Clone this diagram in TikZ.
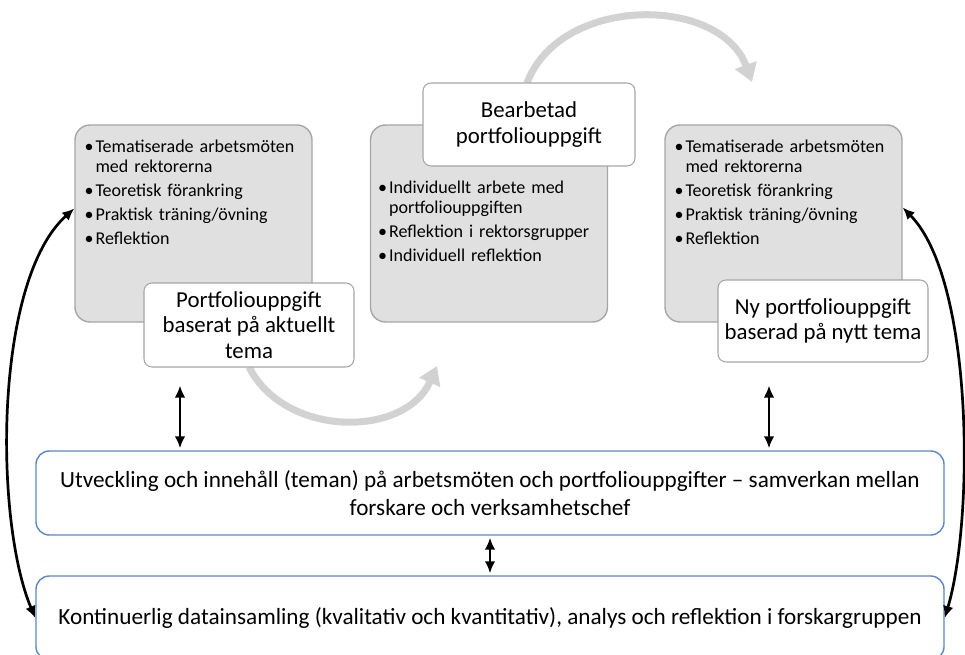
\documentclass[tikz,border=0pt]{standalone}
\usepackage{fontspec}
\setmainfont{Carlito}
\usetikzlibrary{arrows.meta,positioning}
\definecolor{boxgray}{HTML}{E0E0E0}
\definecolor{edgegray}{HTML}{A6A6A6}
\definecolor{arcgray}{HTML}{D2D2D2}
\definecolor{edgeblue}{HTML}{5B87C5}
\newcommand{\punkt}[1]{\par\hangindent=9.4pt\hangafter=1\noindent\makebox[9.4pt][l]{\textbullet}#1}
\tikzset{
  graybox/.style={draw=edgegray, fill=boxgray, line width=1.2pt, rounded corners=4.5mm, minimum width=71.1mm, minimum height=59.1mm},
  whitebox/.style={draw=edgegray, fill=white, line width=0.9pt, rounded corners=2.4mm, align=center, inner sep=0pt, font=\fontsize{19.5}{22}\selectfont},
  bluebox/.style={draw=edgeblue, fill=white, line width=1.2pt, rounded corners=4mm, align=center, minimum width=272.4mm, minimum height=25.2mm, font=\fontsize{19.8}{24}\selectfont},
  bullets/.style={anchor=north west, inner sep=0pt, text width=68mm, align=left, font=\fontsize{15.4}{17}\selectfont\setlength{\parskip}{3.5pt}},
  dblarrow/.style={{Latex[length=3.6mm,width=3.2mm]}-{Latex[length=3.6mm,width=3.2mm]}, line width=2.4pt},
  sidearrow/.style={{Latex[length=3.6mm,width=3.2mm]}-{Latex[length=3.6mm,width=3.2mm]}, line width=2.3pt},
  grayarrow/.style={-{Triangle[length=5.4mm,width=6.6mm]}, line width=2.1mm, draw=arcgray},
}

\begin{document}
\begin{tikzpicture}[x=0.3mm, y=-0.3mm]
\useasboundingbox (0,0) rectangle (965,655);

% three rounds
\node[graybox] (g1) at (193.5,223.5) {};
\node[graybox] (g2) at (489,223.5) {};
\node[graybox] (g3) at (783.5,223.5) {};

\node[bullets] (l1) at ([xshift=3mm,yshift=-1.2mm]g1.north west)
  {\punkt{Tematiserade arbetsmöten\newline med rektorerna}
   \punkt{Teoretisk förankring}
   \punkt{Praktisk träning/övning}
   \punkt{Reflektion}};
\node[bullets] (l2) at ([xshift=2.4mm,yshift=-13.6mm]g2.north west)
  {\punkt{Individuellt arbete med\newline portfoliouppgiften}
   \punkt{Reflektion i rektorsgrupper}
   \punkt{Individuell reflektion}};
\node[bullets] (l3) at ([xshift=3mm,yshift=-1.2mm]g3.north west)
  {\punkt{Tematiserade arbetsmöten\newline med rektorerna}
   \punkt{Teoretisk förankring}
   \punkt{Praktisk träning/övning}
   \punkt{Reflektion}};

% gray flow arcs
\coordinate (a1) at (437,366);
\coordinate (a2) at (752,82);
\draw[grayarrow] (249,367) .. controls (285,438) and (405,438) .. (a1);
\draw[grayarrow] (527,83) .. controls (560,-5) and (720,-5) .. (a2);

\node[whitebox, minimum width=63mm, minimum height=25.2mm] (w1) at (249,325)
  {Portfoliouppgift\\baserat på aktuellt\\tema};
\node[whitebox, minimum width=63.6mm, minimum height=24.9mm] (w2) at (529,124.5)
  {Bearbetad\\portfoliouppgift};
\node[whitebox, minimum width=63mm, minimum height=24.6mm] (w3) at (823,321)
  {Ny portfoliouppgift\\baserad på nytt tema};

% research level
\node[bluebox] (u1) at (490,493)
  {Utveckling och innehåll (teman) på arbetsmöten och portfoliouppgifter -- samverkan mellan\\forskare och verksamhetschef};
\node[bluebox] (k2) at (490,618)
  {Kontinuerlig datainsamling (kvalitativ och kvantitativ), analys och reflektion i forskargruppen};

\draw[dblarrow, shorten <=5.4mm, shorten >=0.6mm] ([xshift=-20.7mm]w1.south) -- ([xshift=-20.7mm]w1.south |- u1.north);
\draw[dblarrow, shorten <=6.9mm, shorten >=0.6mm] ([xshift=-16.2mm]w3.south) -- ([xshift=-16.2mm]w3.south |- u1.north);
\draw[dblarrow, shorten <=0.6mm, shorten >=0.6mm] (u1.south) -- (k2.north);

\draw[sidearrow] ([yshift=4.5mm]g1.west) .. controls (-6,280) and (-6,520) .. (k2.west);
\draw[sidearrow] ([yshift=4.8mm]g3.east) .. controls (974,280) and (974,520) .. (k2.east);
\end{tikzpicture}
\end{document}
